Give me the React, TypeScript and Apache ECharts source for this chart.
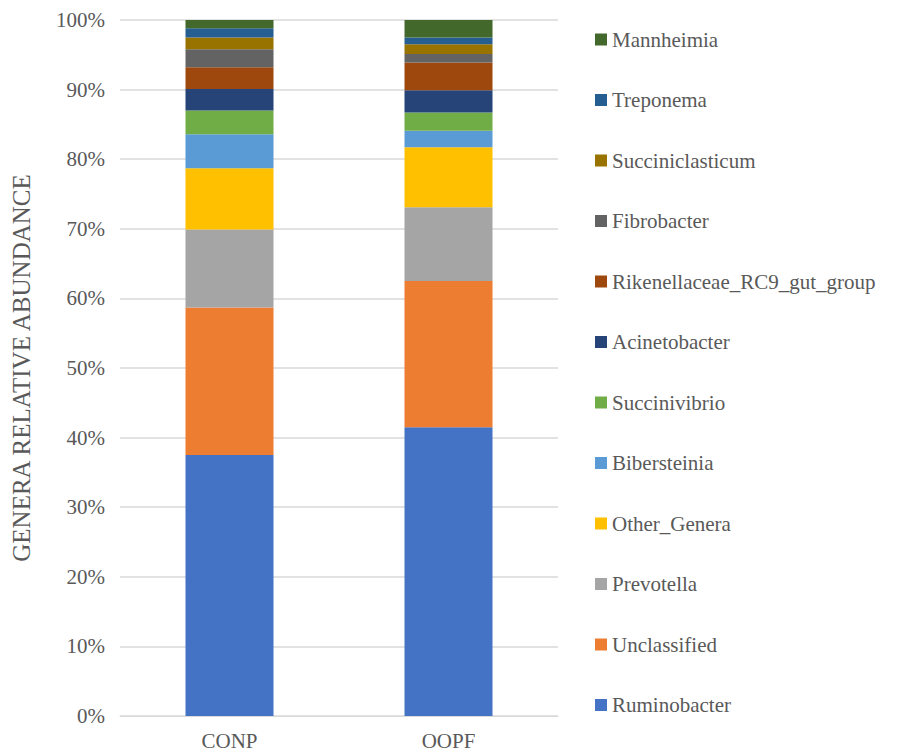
import React, { useEffect, useRef } from "react";
import * as echarts from "echarts";

// Sample groups on the x axis
const groups = ["CONP", "OOPF"];

// Genera, bottom of the stack first
const genera = [
  "Ruminobacter",
  "Unclassified",
  "Prevotella",
  "Other_Genera",
  "Bibersteinia",
  "Succinivibrio",
  "Acinetobacter",
  "Rikenellaceae_RC9_gut_group",
  "Fibrobacter",
  "Succiniclasticum",
  "Treponema",
  "Mannheimia",
];

// Relative abundance (%) per genus: [CONP, OOPF]
const ruminobacter = [37.5, 41.5];
const unclassified = [21.2, 21.0];
const prevotella = [11.2, 10.6];
const otherGenera = [8.8, 8.6];
const bibersteinia = [4.9, 2.4];
const succinivibrio = [3.4, 2.6];
const acinetobacter = [3.1, 3.2];
const rikenellaceae = [3.1, 4.0];
const fibrobacter = [2.6, 1.2];
const succiniclasticum = [1.7, 1.4];
const treponema = [1.3, 1.0];
const mannheimia = [1.2, 2.5];

const values = [
  ruminobacter,
  unclassified,
  prevotella,
  otherGenera,
  bibersteinia,
  succinivibrio,
  acinetobacter,
  rikenellaceae,
  fibrobacter,
  succiniclasticum,
  treponema,
  mannheimia,
];

const colors = [
  "#4472C4",
  "#ED7D31",
  "#A5A5A5",
  "#FFC000",
  "#5B9BD5",
  "#70AD47",
  "#264478",
  "#9E480E",
  "#636363",
  "#997300",
  "#255E91",
  "#43682B",
];

const yTicks = [0, 10, 20, 30, 40, 50, 60, 70, 80, 90, 100];

const FONT = "Liberation Serif";
const TEXT = "#595959";

export default function App() {
  const ref = useRef<HTMLDivElement>(null);

  useEffect(() => {
    if (!ref.current) return;
    const chart = echarts.init(ref.current, undefined, { renderer: "svg" });
    chart.setOption({
      animation: false,
      grid: { left: 120, right: 350, top: 20, bottom: 40 },
      legend: {
        orient: "vertical",
        left: 590,
        top: 24,
        icon: "rect",
        itemWidth: 12,
        itemHeight: 12,
        itemGap: 39.5,
        data: [...genera].reverse(),
        textStyle: {
          fontFamily: FONT,
          fontSize: 21,
          color: TEXT,
          lineHeight: 20,
        },
      },
      xAxis: {
        type: "category",
        data: groups,
        axisLine: { show: true, lineStyle: { color: "#d9d9d9", width: 1 } },
        axisTick: { show: false },
        axisLabel: {
          fontFamily: FONT,
          fontSize: 21,
          color: TEXT,
          margin: 14,
        },
      },
      yAxis: {
        type: "value",
        min: yTicks[0],
        max: yTicks[yTicks.length - 1],
        interval: 10,
        name: "GENERA RELATIVE ABUNDANCE",
        nameLocation: "middle",
        nameGap: 86,
        nameTextStyle: { fontFamily: FONT, fontSize: 25, color: TEXT },
        axisLine: { show: false },
        axisTick: { show: false },
        axisLabel: {
          fontFamily: FONT,
          fontSize: 21,
          color: TEXT,
          margin: 15,
          formatter: (v: number) => `${v}%`,
        },
        splitLine: { lineStyle: { color: "#d9d9d9", width: 1.5 } },
      },
      series: genera.map((name, i) => ({
        name,
        type: "bar",
        stack: "total",
        barWidth: 88,
        data: values[i],
        itemStyle: { color: colors[i] },
      })),
    });
    return () => chart.dispose();
  }, []);

  return (
    <div
      ref={ref}
      style={{
        position: "fixed",
        left: 0,
        top: 0,
        width: 908,
        height: 756,
        background: "#ffffff",
      }}
    />
  );
}
